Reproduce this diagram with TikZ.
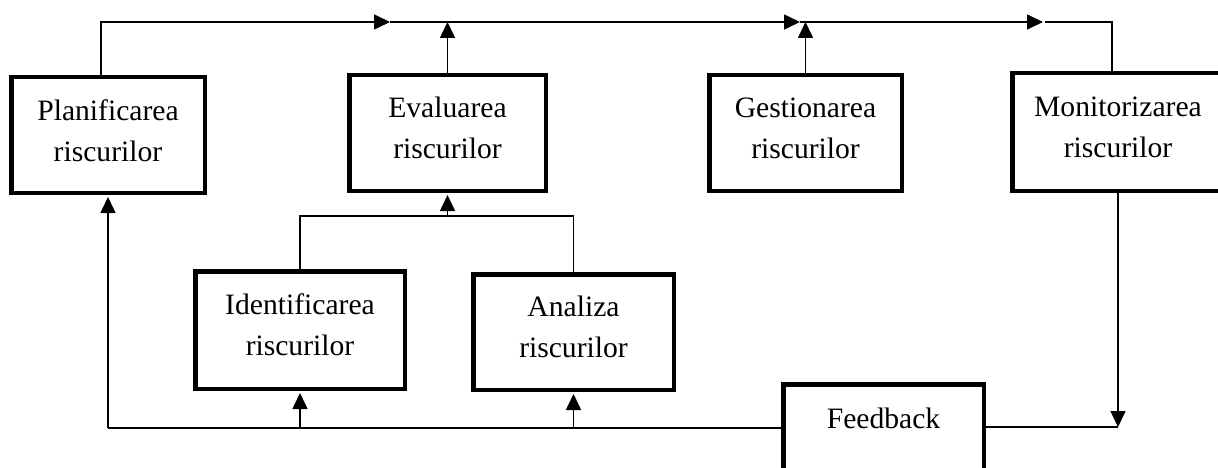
\documentclass[tikz,border=0pt]{standalone}
\usepackage{fontspec}
\setmainfont{Liberation Serif}
\usetikzlibrary{arrows.meta}
\begin{document}
\begin{tikzpicture}[x=1pt,y=-1pt,
  box/.style={draw, line width=4.5pt, rectangle, inner sep=0pt},
  conn/.style={line width=1.6pt},
  tip/.style={-{Triangle[length=16pt,width=15pt]}},
  txt/.style={align=center, font=\fontsize{29.6}{41}\selectfont, inner sep=0pt}]
\useasboundingbox (0,0) rectangle (1218,468);
% boxes
\node[box, minimum width=193.5pt, minimum height=115.5pt] (plan) at (108,135) {};
\node[box, minimum width=196.5pt, minimum height=115.5pt] (eval) at (447.5,133) {};
\node[box, minimum width=192.5pt, minimum height=115.5pt] (gest) at (805.5,133) {};
\node[box, minimum width=211.5pt, minimum height=117.5pt] (monit) at (1118,132) {};
\node[box, minimum width=209.5pt, minimum height=117.5pt] (ident) at (300,330) {};
\node[box, minimum width=200.5pt, minimum height=115.5pt] (anal) at (573.5,332) {};
\node[box, minimum width=200.5pt, minimum height=115.5pt] (fb) at (883.5,442) {};
% texts
\node[txt] (plant) at ([yshift=4.5pt]plan.center) {Planificarea\\riscurilor};
\node[txt] (evalt) at ([yshift=5pt]eval.center) {Evaluarea\\riscurilor};
\node[txt] (gestt) at ([yshift=5pt]gest.center) {Gestionarea\\riscurilor};
\node[txt] (monitt) at ([yshift=5pt]monit.center) {Monitorizarea\\riscurilor};
\node[txt] (identt) at ([yshift=5pt]ident.center) {Identificarea\\riscurilor};
\node[txt] (analt) at ([yshift=5pt]anal.center) {Analiza\\riscurilor};
\node[txt] (fbt) at (883.5,418) {Feedback};
% top line
\coordinate (t1) at (101,22);
\coordinate (a1) at (390,22);
\coordinate (a2) at (800,22);
\coordinate (a3) at (1043,22);
\coordinate (t2) at (1045,22);
\coordinate (t3) at (1112,22);
\draw[conn,tip] (plan.north -| t1) -- (t1) -- (a1);
\draw[conn,tip] (a1) -- (a2);
\draw[conn,tip] (a2) -- (a3);
\draw[conn] (t2) -- (t3) -- (monit.north -| t3);
\draw[conn,tip] (eval.north) -- (eval.north |- a1);
\draw[conn,tip] (gest.north) -- (gest.north |- a1);
% junction to Evaluarea
\coordinate (j) at (447.5,216);
\draw[conn] (ident.north) -- (ident.north |- j) -- (anal.north |- j) -- (anal.north);
\draw[conn,tip,shorten >=2pt] (j) -- (eval.south);
% bottom feedback line
\coordinate (b0) at (108,428);
\draw[conn] (fb.west |- b0) -- (b0);
\draw[conn,tip,shorten >=2pt] (b0) -- (plan.south);
\draw[conn,tip,shorten >=2pt] (ident.south |- b0) -- (ident.south);
\draw[conn,tip,shorten >=2pt] (anal.south |- b0) -- (anal.south);
% right: monitor to feedback
\coordinate (r0) at (1118,427);
\draw[conn] (fb.east |- r0) -- (r0);
\draw[conn,tip] (monit.south) -- (r0);
\end{tikzpicture}
\end{document}
